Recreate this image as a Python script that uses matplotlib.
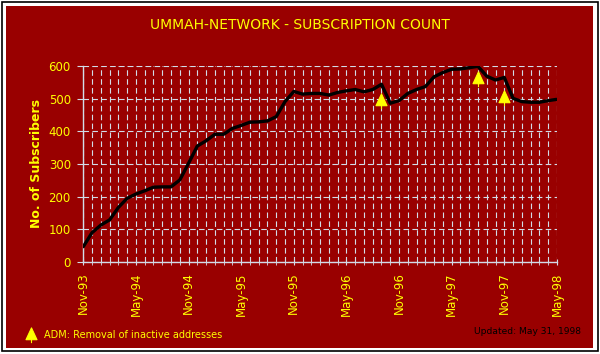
import matplotlib
matplotlib.use("Agg")
from matplotlib import pyplot as plt
from matplotlib.patches import Rectangle
from matplotlib.path import Path
import numpy as np

# Monthly subscriber counts, Nov-93 .. May-98
subscribers = [47, 90, 113, 129, 167, 195, 208, 218, 229, 230, 230, 251,
               302, 355, 371, 391, 391, 409, 418, 428, 429, 432, 445, 491,
               522, 514, 516, 516, 511, 519, 524, 528, 521, 528, 544, 486,
               494, 516, 528, 537, 567, 580, 590, 591, 595, 599, 569, 557,
               565, 501, 491, 489, 489, 494, 498]
tick_labels = ["Nov-93", "May-94", "Nov-94", "May-95", "Nov-95",
               "May-96", "Nov-96", "May-97", "Nov-97", "May-98"]
# ADM markers: month index from Nov-93, value
adm_month = [34, 45, 48]
adm_value = [494, 559, 503]

RED = "#990000"
YELLOW = "#FFFF00"
GRID = "#D2DCE8"
W, H = 600, 354


def fx(x):
    return x / W


def fy(y):
    return 1 - y / H


fig = plt.figure(figsize=(6, 3.54), dpi=100)
fig.patch.set_facecolor("white")

# frame
fig.add_artist(Rectangle((fx(2), fy(351)), fx(596), 349 / H, transform=fig.transFigure,
                         facecolor="none", edgecolor="black", lw=1.2, zorder=-2))
fig.add_artist(Rectangle((fx(6), fy(348)), fx(587), 342 / H, transform=fig.transFigure,
                         facecolor=RED, edgecolor="none", zorder=-1))

ax = fig.add_axes([fx(83.3), fy(262), fx(556.9 - 83.3), 196 / H])
ax.set_zorder(2)
ax.set_facecolor("none")

x = np.arange(len(subscribers))
ax.plot(x, subscribers, color="black", lw=2.4, solid_joinstyle="round",
        solid_capstyle="round", zorder=3)

tree = Path([(0, 1), (-0.72, -0.55), (0.72, -0.55), (0, 1), (0, -0.55), (0, -1)],
            [Path.MOVETO, Path.LINETO, Path.LINETO, Path.CLOSEPOLY, Path.MOVETO, Path.LINETO])
adm, = ax.plot(adm_month, adm_value, ls="none", marker=tree, ms=11, mfc=YELLOW,
               mec=YELLOW, mew=0.8, zorder=4, label="ADM: Removal of inactive addresses")

ax.set_xlim(0, len(subscribers) - 1)
ax.set_ylim(0, 600)
ax.set_xticks(np.arange(0, len(subscribers), 6))
ax.set_xticklabels(tick_labels)
ax.set_xticks(x, minor=True)
ax.set_yticks(np.arange(0, 601, 100))

for s in ["top", "right"]:
    ax.spines[s].set_visible(False)
for s in ["left", "bottom"]:
    ax.spines[s].set_color(GRID)
    ax.spines[s].set_linewidth(1)

ax.grid(True, which="both", axis="x", color=GRID, ls=(0, (5, 3)), lw=0.8)
ax.grid(True, which="major", axis="y", color=GRID, ls=(0, (5, 3)), lw=0.8)

ax.tick_params(axis="x", which="both", direction="inout", length=5, color=GRID,
               labelcolor=YELLOW, labelsize=8.5, labelrotation=90, pad=5)
ax.tick_params(axis="y", direction="out", length=4, color=GRID,
               labelcolor=YELLOW, labelsize=8.5, pad=5)

fig.text(0.5, fy(25), "UMMAH-NETWORK - SUBSCRIPTION COUNT", ha="center", va="center",
         color=YELLOW, fontsize=10)
fig.text(fx(36.5), fy(164), "No. of Subscribers", rotation=90, ha="center", va="center",
         color=YELLOW, fontsize=9, fontweight="bold")
fig.text(fx(474), fy(331), "Updated: May 31, 1998", ha="left", va="center",
         color="black", fontsize=6.6)

fig.legend(handles=[adm], loc="center left", bbox_to_anchor=(fx(25), fy(335)),
           frameon=False, fontsize=7, labelcolor=YELLOW, handlelength=1.2,
           handletextpad=0.8, borderpad=0, borderaxespad=0)

fig.savefig("out.png", dpi=100, facecolor="white")
